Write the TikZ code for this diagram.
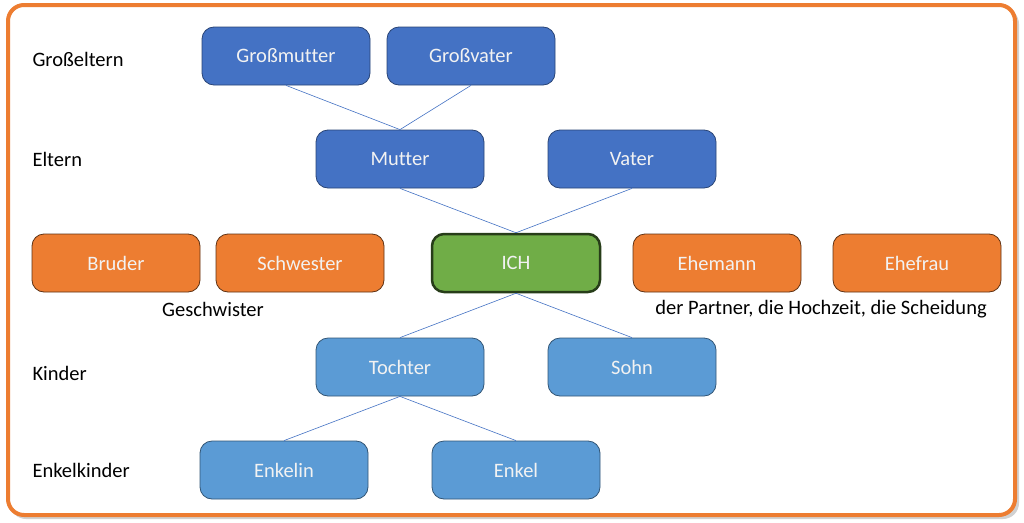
\documentclass[tikz,border=0pt]{standalone}
\usepackage{fontspec}
\setmainfont{Carlito}[RawFeature=-liga]
\usetikzlibrary{positioning}

\definecolor{darkblue}{HTML}{4472C4}
\definecolor{lightblue}{HTML}{5B9BD5}
\definecolor{officeorange}{HTML}{ED7D31}
\definecolor{officegreen}{HTML}{70AD47}

\tikzset{
  member/.style={rounded corners=12pt, minimum width=168pt, minimum height=58pt,
    inner sep=0pt, text=white!95!black, line width=0.8pt,
    font=\fontsize{20.5}{24}\selectfont},
  elder/.style={member, fill=darkblue, draw=darkblue!60!black},
  young/.style={member, fill=lightblue, draw=lightblue!55!black},
  side/.style={member, fill=officeorange, draw=officeorange!40!black},
  generation/.style={anchor=west, font=\fontsize{20.5}{24}\selectfont},
  kin/.style={draw=darkblue, line width=0.6pt}
}

\begin{document}
\begin{tikzpicture}[x=1pt, y=-1pt]

\useasboundingbox (0,0) rectangle (1024,522);

\fill[black!18, rounded corners=16pt] (10,8) rectangle (1019,519);
\draw[officeorange, line width=4pt, fill=white, rounded corners=16pt]
  (8,5) rectangle (1015,515);

\coordinate(GMpos) at (286, 56);
\coordinate(GVpos) at (471, 56);
\coordinate(Mpos) at (400, 159);
\coordinate(Vpos) at (632, 159);
\coordinate(Ipos) at (516, 263);
\coordinate(Tpos) at (400, 367);
\coordinate(Spos) at (632, 367);
\coordinate(ENpos) at (284, 470);
\coordinate(Epos) at (516, 470);

\node[elder] (grossmutter) at (GMpos) {Großmutter};
\node[elder] (grossvater) at (GVpos) {Großvater};
\node[elder] (mutter) at (Mpos) {Mutter};
\node[elder] (vater) at (Vpos) {Vater};

\node[side] (bruder) at (116, 263) {Bruder};
\node[side] (schwester) at (300, 263) {Schwester};
\node[member, fill=officegreen, draw=officegreen!35!black, line width=2.5pt]
  (ich) at (Ipos) {ICH};
\node[side] (ehemann) at (717, 263) {Ehemann};
\node[side] (ehefrau) at (917, 263) {Ehefrau};

\node[young] (tochter) at (Tpos) {Tochter};
\node[young] (sohn) at (Spos) {Sohn};
\node[young] (enkelin) at (ENpos) {Enkelin};
\node[young] (enkel) at (Epos) {Enkel};

\node[generation] (grosseltern) at (29, 59) {Großeltern};
\node[generation] (eltern) at (29, 159) {Eltern};
\node[generation] (kinder) at (29, 373) {Kinder};
\node[generation] (enkelkinder) at (29, 470) {Enkelkinder};

\node[font=\fontsize{20.5}{24}\selectfont] (geschwister) at (213, 309) {Geschwister};
\node[font=\fontsize{20.5}{24}\selectfont] (partner) at (821, 309)
  {der Partner, die Hochzeit, die Scheidung};

\draw[kin] (grossmutter.south) to (mutter.north);
\draw[kin] (grossvater.south) to (mutter.north);
\draw[kin] (mutter.south) to (ich.north);
\draw[kin] (vater.south) to (ich.north);
\draw[kin] (ich.south) to (tochter.north);
\draw[kin] (ich.south) to (sohn.north);
\draw[kin] (tochter.south) to (enkelin.north);
\draw[kin] (tochter.south) to (enkel.north);

\end{tikzpicture}
\end{document}
